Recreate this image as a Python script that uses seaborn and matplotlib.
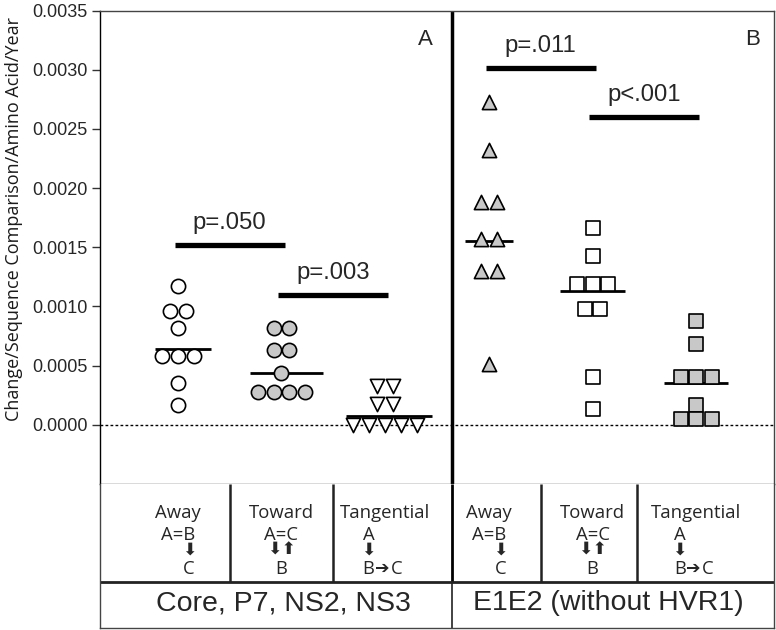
import numpy as np
import pandas as pd
import matplotlib
matplotlib.use("Agg")
import matplotlib.pyplot as plt
import seaborn as sns

# ---------------- data ----------------
categories = ["Away", "Toward", "Tangential", "Away", "Toward", "Tangential"]
core_away = [0.00117, 0.00096, 0.00096, 0.00082, 0.00058, 0.00058, 0.00058, 0.000355, 0.00017]
core_toward = [0.00082, 0.00082, 0.00063, 0.00063, 0.00044, 0.000275, 0.000275, 0.000275, 0.000275]
core_tangential = [0.00033, 0.00033, 0.00018, 0.00018, 0.0, 0.0, 0.0, 0.0, 0.0]
e1e2_away = [0.00273, 0.00232, 0.00188, 0.00188, 0.00157, 0.00157, 0.0013, 0.0013, 0.00051]
e1e2_toward = [0.00166, 0.00143, 0.00119, 0.00119, 0.00119, 0.00098, 0.00098, 0.0004, 0.00013]
e1e2_tangential = [0.00088, 0.00068, 0.0004, 0.0004, 0.0004, 0.00017, 0.00005, 0.00005, 0.00005]
center_lines = [0.00064, 0.00044, 0.000073, 0.00155, 0.00113, 0.000355]
ytick_values = [0.0, 0.0005, 0.0010, 0.0015, 0.0020, 0.0025, 0.0030, 0.0035]
sig_labels = ["p=.050", "p=.003", "p=.011", "p<.001"]
sig_heights = [0.00152, 0.0011, 0.003015, 0.0026]
sig_pairs = [(0, 1), (1, 2), (3, 4), (4, 5)]
region_labels = ["Core, P7, NS2, NS3", "E1E2 (without HVR1)"]
panel_letters = ["A", "B"]
ylabel = "Change/Sequence Comparison/Amino Acid/Year"

series = [core_away, core_toward, core_tangential, e1e2_away, e1e2_toward, e1e2_tangential]

# ---------------- styles ----------------
GRAY = "#c8c8c8"
markers = ["o", "o", "v", "^", "s", "s"]
fills = ["white", GRAY, "white", GRAY, "white", GRAY]
steps = [0.152, 0.152, 0.155, 0.157, 0.15, 0.15]
line_spans = [(-0.22, 0.32), (-0.30, 0.40), (-0.38, 0.455), (-0.235, 0.23), (-0.317, 0.316), (-0.315, 0.31)]
ARIAL = "Liberation Sans"
SEGOE = "Open Sans"
ARROW = ["DejaVu Sans"]
TFS = 13.3   # table label font size
AFS = 12.5   # arrow font size

sns.set_style("white")
plt.rcParams["font.family"] = [ARIAL, "DejaVu Sans"]


def row_offsets(vals, step):
    vals = np.asarray(vals)
    off = np.zeros(len(vals))
    for v in np.unique(vals):
        idx = np.where(vals == v)[0]
        n = len(idx)
        off[idx] = (np.arange(n) - (n - 1) / 2.0) * step
    return off


rows = []
for gi, vals in enumerate(series):
    offs = row_offsets(vals, steps[gi])
    for v, o in zip(vals, offs):
        rows.append({"group": gi, "value": v, "x": gi + o})
df = pd.DataFrame(rows)

fig = plt.figure(figsize=(7.76, 6.30), dpi=100)
ax = fig.add_axes([100 / 776, 146 / 630, 0.868, 473.4 / 630])
tab = fig.add_axes([100 / 776, 1.7 / 630, 0.868, 144.3 / 630], sharex=ax)

# scatter points
for gi in range(len(series)):
    sub = df[df["group"] == gi]
    sns.scatterplot(data=sub, x="x", y="value", marker=markers[gi], s=105,
                    color=fills[gi], edgecolor="black", linewidth=1.2,
                    ax=ax, zorder=4, legend=False)
    l, r = line_spans[gi]
    ax.hlines(center_lines[gi], gi + l, gi + r, color="black", lw=2.0, zorder=3)

# zero line
ax.axhline(0, color="black", lw=1.0, ls=(0, (2, 1.6)), zorder=2)
# panel divider
DIV = 2.64
ax.axvline(DIV, color="black", lw=2.5, zorder=2)

# significance bars
for (a, b), h, lab in zip(sig_pairs, sig_heights, sig_labels):
    ax.hlines(h, a - 0.03, b + 0.03, color="black", lw=3.8, capstyle="butt", zorder=3)
    ax.text((a + b) / 2, h + 0.000135, lab, ha="center", va="baseline",
            fontsize=17.2, family=[ARIAL, "DejaVu Sans"])

# panel letters
ax.text(2.39, 0.00321, panel_letters[0], ha="center", va="baseline", fontsize=16, family=ARIAL)
ax.text(5.54, 0.00321, panel_letters[1], ha="center", va="baseline", fontsize=16, family=ARIAL)

ax.set_xlim(-0.75, 5.745)
ax.set_ylim(-0.0005, 0.0035)
ax.set_yticks(ytick_values)
ax.set_yticklabels([f"{v:.4f}" for v in ytick_values], fontsize=13, family=ARIAL)
ax.set_xticks(range(len(categories)))
ax.set_xticklabels([])
ax.set_xlabel("")
ax.set_ylabel(ylabel, fontsize=13, family=SEGOE, color="#1a1a1a")
ax.yaxis.label.set_va("center")
ax.yaxis.set_label_coords(-0.128, 0.56)
ax.tick_params(axis="y", direction="out", length=6, width=1, color="#333333", pad=3, left=True)
ax.tick_params(axis="x", direction="out", length=4, width=1, color="#333333", bottom=True)
for side in ["top", "right", "bottom"]:
    ax.spines[side].set_color("#444444")
    ax.spines[side].set_linewidth(1.0)
ax.spines["left"].set_color("black")
ax.spines["left"].set_linewidth(1.0)

# ---------------- table below ----------------
tab.set_ylim(628.3, 484)
tab.tick_params(left=False, bottom=False, labelleft=False, labelbottom=False)
tab.spines["top"].set_visible(False)
for side in ["left", "right", "bottom"]:
    tab.spines[side].set_color("#444444")
    tab.spines[side].set_linewidth(1.0)
tab.vlines([0.504, 1.493, 3.50, 4.428], 484, 581.5, color="#222222", lw=1.8)
tab.vlines(DIV, 484, 581.5, color="black", lw=2.0)
tab.vlines(DIV, 581.5, 628.3, color="#222222", lw=1.2)
tab.axhline(581.5, color="#222222", lw=2.0)

for gi, cat in enumerate(categories):
    tab.text(gi, 518.0, cat, ha="center", va="baseline", fontsize=TFS, family=SEGOE)
    if cat == "Away":
        tab.text(gi + 0.005, 540.5, "A=B", ha="center", va="baseline", fontsize=TFS, family=SEGOE)
        tab.text(gi + 0.11, 550, "\u2b07", ha="center", va="center", fontsize=AFS, family=ARROW)
        tab.text(gi + 0.11, 573.5, "C", ha="center", va="baseline", fontsize=TFS, family=SEGOE)
    elif cat == "Toward":
        tab.text(gi, 540.5, "A=C", ha="center", va="baseline", fontsize=TFS, family=SEGOE)
        tab.text(gi, 550, "\u2b07\u2b06", ha="center", va="center", fontsize=AFS, family=ARROW)
        tab.text(gi, 573.5, "B", ha="center", va="baseline", fontsize=TFS, family=SEGOE)
    else:
        tab.text(gi - 0.16, 540.0, "A", ha="center", va="baseline", fontsize=TFS, family=SEGOE)
        tab.text(gi - 0.16, 550, "\u2b07", ha="center", va="center", fontsize=AFS, family=ARROW)
        tab.text(gi - 0.16, 573.5, "B", ha="center", va="baseline", fontsize=TFS, family=SEGOE)
        tab.text(gi - 0.025, 567.5, "\u2794", ha="center", va="center", fontsize=AFS, family=ARROW)
        tab.text(gi + 0.11, 573.5, "C", ha="center", va="baseline", fontsize=TFS, family=SEGOE)

tab.text(1.02, 603.5, region_labels[0], ha="center", va="center", fontsize=20.5, family=ARIAL)
tab.text(4.155, 603.5, region_labels[1], ha="center", va="center", fontsize=20.5, family=ARIAL)

fig.savefig("out.png", dpi=100)
